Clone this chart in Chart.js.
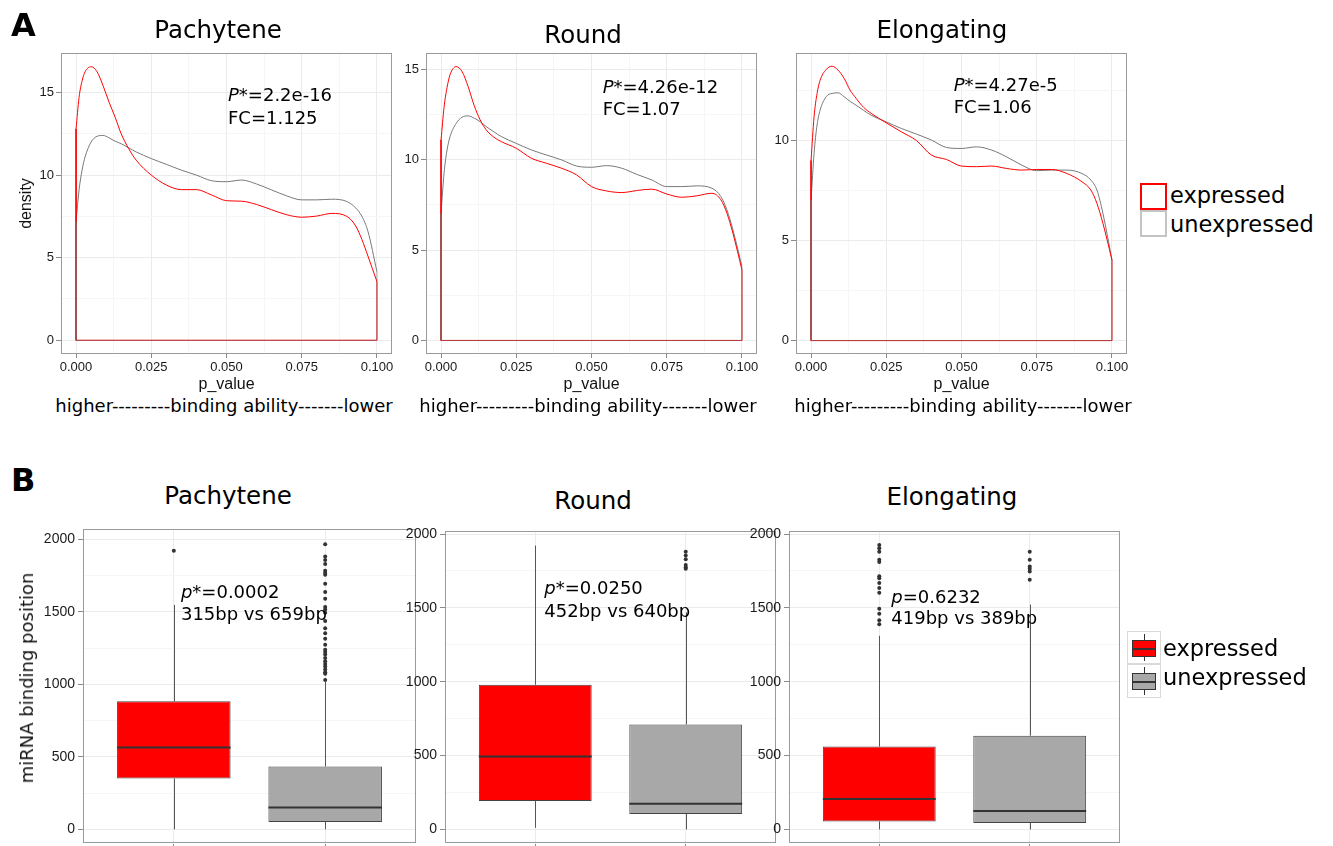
<!DOCTYPE html>
<html>
<head>
<meta charset="utf-8">
<title>miRNA binding ability and position</title>
<script src="https://cdn.jsdelivr.net/npm/chart.js@4.4.1/dist/chart.umd.min.js"></script>
<style>
  html, body { margin: 0; padding: 0; background: #fff; }
  body { width: 1333px; height: 846px; position: relative; overflow: hidden; font-family: "DejaVu Sans", sans-serif; color: #000; }
  canvas { position: absolute; }
  .lbl { position: absolute; white-space: nowrap; line-height: 1; transform: translate(-50%, -50%); }
  .rot { transform: translate(-50%, -50%) rotate(-90deg); color: #111; }
  .letter { position: absolute; font-weight: bold; font-size: 32px; line-height: 1; }
  .title { font-size: 24.5px; }
  .under { font-size: 18px; }
  .leg { position: absolute; white-space: nowrap; font-size: 22.5px; line-height: 1; transform: translateY(-50%); }
  .key { position: absolute; box-sizing: border-box; background: #fff; }
  .key .wh { position: absolute; left: 50%; width: 1px; top: 2px; bottom: 2px; background: #333; }
  .key .bx { position: absolute; left: 4px; right: 4px; top: 8px; height: 17px; box-sizing: border-box; border: 1.5px solid #333; }
  .key .md { position: absolute; left: 4px; right: 4px; top: 15.5px; height: 2px; background: #333; }
</style>
</head>
<body>
<canvas id="a1"></canvas>
<canvas id="a2"></canvas>
<canvas id="a3"></canvas>
<canvas id="b1"></canvas>
<canvas id="b2"></canvas>
<canvas id="b3"></canvas>

<div class="letter" style="left:11px;top:9px">A</div>
<div class="letter" style="left:11px;top:464px">B</div>

<div class="lbl title" style="left:218px;top:30px">Pachytene</div>
<div class="lbl title" style="left:583px;top:35px">Round</div>
<div class="lbl title" style="left:942px;top:30px">Elongating</div>
<div class="lbl title" style="left:228px;top:496px">Pachytene</div>
<div class="lbl title" style="left:593px;top:501px">Round</div>
<div class="lbl title" style="left:952px;top:497px">Elongating</div>

<div class="lbl under" style="left:224px;top:406px">higher---------binding ability-------lower</div>
<div class="lbl under" style="left:588px;top:406px">higher---------binding ability-------lower</div>
<div class="lbl under" style="left:963px;top:406px">higher---------binding ability-------lower</div>

<div class="lbl rot" style="left:27px;top:678px;font-size:18px">miRNA binding position</div>

<!-- legend for the density panels -->
<div class="key" style="left:1140px;top:183px;width:27px;height:27px;border:2px solid #ff0000"></div>
<div class="key" style="left:1140px;top:210px;width:27px;height:27px;border:2px solid #c4c4c4"></div>
<div class="leg" style="left:1170px;top:195px">expressed</div>
<div class="leg" style="left:1170px;top:224px">unexpressed</div>

<!-- legend for the box plots -->
<div class="key" style="left:1127px;top:631px;width:34px;height:33px;border:1px solid #d9d9d9">
  <div class="wh"></div><div class="bx" style="background:#ff0000"></div><div class="md"></div>
</div>
<div class="key" style="left:1127px;top:664px;width:34px;height:34px;border:1px solid #d9d9d9">
  <div class="wh"></div><div class="bx" style="background:#a8a8a8"></div><div class="md"></div>
</div>
<div class="leg" style="left:1163px;top:648px">expressed</div>
<div class="leg" style="left:1163px;top:677px">unexpressed</div>

<script>
// density curves
const pGrid = [0, 0.001, 0.002, 0.003, 0.005, 0.007, 0.009, 0.011, 0.013, 0.015, 0.0175, 0.02, 0.025, 0.03, 0.035,
  0.04, 0.045, 0.05, 0.055, 0.06, 0.065, 0.07, 0.075, 0.08, 0.085, 0.09, 0.093, 0.095, 0.097, 0.1];

const pachyteneExpr = [12.8, 14.7, 15.7, 16.25, 16.56, 16.25, 15.4, 14.4, 13.5, 12.5, 11.6, 10.9, 10.0, 9.4, 9.12,
  9.12, 8.8, 8.45, 8.42, 8.22, 7.9, 7.6, 7.45, 7.52, 7.68, 7.5, 6.9, 6.1, 5.1, 3.55];
const pachyteneUnexpr = [7.2, 9.1, 10.3, 11.1, 12.0, 12.35, 12.4, 12.25, 12.05, 11.9, 11.65, 11.4, 11.0, 10.65, 10.3,
  10.0, 9.66, 9.6, 9.7, 9.46, 9.1, 8.74, 8.5, 8.5, 8.54, 8.4, 8.0, 7.5, 6.6, 4.15];
const roundExpr = [11.1, 12.9, 14.0, 14.7, 15.15, 14.87, 14.04, 13.0, 12.2, 11.65, 11.25, 11.0, 10.63, 10.08, 9.8,
  9.53, 9.16, 8.51, 8.27, 8.18, 8.29, 8.37, 8.1, 7.92, 8.0, 8.14, 7.78, 7.04, 5.93, 3.9];
const roundUnexpr = [7.04, 9.25, 10.54, 11.28, 12.0, 12.35, 12.42, 12.3, 12.1, 11.83, 11.55, 11.28, 10.9, 10.54, 10.26,
  9.99, 9.65, 9.58, 9.67, 9.53, 9.19, 8.88, 8.51, 8.51, 8.55, 8.42, 7.96, 7.22, 6.12, 4.09];
const elongExpr = [9.0, 11.18, 12.35, 13.0, 13.54, 13.71, 13.51, 13.1, 12.51, 12.1, 11.65, 11.35, 10.88, 10.43, 10.0,
  9.27, 9.05, 8.72, 8.69, 8.72, 8.6, 8.52, 8.55, 8.55, 8.35, 7.94, 7.52, 6.86, 5.86, 4.03];
const elongUnexpr = [7.02, 9.35, 10.77, 11.51, 12.18, 12.35, 12.38, 12.18, 11.95, 11.76, 11.5, 11.26, 10.93, 10.6, 10.32,
  10.02, 9.65, 9.6, 9.68, 9.52, 9.18, 8.77, 8.49, 8.52, 8.52, 8.35, 8.02, 7.52, 6.36, 4.03];

const pTicks = [0, 0.025, 0.05, 0.075, 0.1];
const pMinor = [0.0125, 0.0375, 0.0625, 0.0875];
const densityTicks = [0, 5, 10, 15];
const densityMinor = [2.5, 7.5, 12.5];

// box plots: [lower whisker, Q1, median, Q3, upper whisker] for expressed / unexpressed
const groups = ['expressed', 'unexpressed'];
const pachyteneBox = [[0, 350, 564, 884, 1548], [0, 50, 150, 434, 1020]];
const roundBox = [[11, 192, 494, 980, 1922], [0, 105, 174, 711, 1470]];
const elongBox = [[0, 54, 206, 561, 1311], [0, 43, 125, 635, 1523]];
const pachyteneOut = [[1921], [1966, 1882, 1857, 1830, 1784, 1768, 1755, 1693, 1636, 1591, 1534, 1516, 1493, 1436,
  1386, 1352, 1314, 1273, 1239, 1223, 1205, 1182, 1159, 1141, 1123, 1102, 1084, 1073, 1030]];
const roundOut = [[], [1880, 1855, 1830, 1790, 1775, 1765]];
const elongOut = [[1926, 1904, 1881, 1826, 1810, 1714, 1700, 1669, 1635, 1602, 1494, 1461, 1416, 1389],
  [1881, 1826, 1781, 1765, 1747, 1691]];
const positionTicks = [0, 500, 1000, 1500, 2000];
const positionMinor = [250, 750, 1250, 1750];

const RED = '#ff0000';
const GREY_LINE = '#787878';
const GREY_FILL = '#a8a8a8';
const PAD = 10;

Chart.defaults.font.family = '"Liberation Sans", Arial, sans-serif';
Chart.defaults.animation = false;
Chart.defaults.events = [];

function fitCanvas(id, area, yW, xH) {
  const c = document.getElementById(id);
  const w = yW + area.r - area.l + PAD;
  const h = PAD + area.b - area.t + xH;
  c.width = w; c.height = h;
  c.style.width = w + 'px'; c.style.height = h + 'px';
  c.style.left = (area.l - yW) + 'px';
  c.style.top = (area.t - PAD) + 'px';
  return c;
}

// panel border drawn over the data, like the ggplot frame
const frame = {
  id: 'frame',
  afterDatasetsDraw(chart) {
    const {ctx, chartArea: a} = chart;
    ctx.save();
    ctx.strokeStyle = '#9a9a9a';
    ctx.lineWidth = 1;
    ctx.strokeRect(Math.round(a.left) + 0.5, Math.round(a.top) + 0.5,
      Math.round(a.right - a.left) - 1, Math.round(a.bottom - a.top) - 1);
    ctx.restore();
  }
};

// whiskers and medians, placed with the chart's own scales and bar elements
const boxes = {
  id: 'boxes',
  afterDatasetsDraw(chart, args, opts) {
    if (!opts.stats) return;
    const {ctx, scales: {y}} = chart;
    const bars = chart.getDatasetMeta(0).data;
    ctx.save();
    opts.stats.forEach((s, i) => {
      const el = bars[i];
      const cx = Math.round(el.x) + 0.5;
      ctx.strokeStyle = '#555';
      ctx.lineWidth = 1;
      ctx.beginPath();
      ctx.moveTo(cx, y.getPixelForValue(s[3])); ctx.lineTo(cx, y.getPixelForValue(s[4]));
      ctx.moveTo(cx, y.getPixelForValue(s[1])); ctx.lineTo(cx, y.getPixelForValue(s[0]));
      ctx.stroke();
      ctx.strokeStyle = '#333';
      ctx.lineWidth = 2;
      ctx.beginPath();
      const my = y.getPixelForValue(s[2]);
      ctx.moveTo(el.x - el.width / 2, my); ctx.lineTo(el.x + el.width / 2, my);
      ctx.stroke();
    });
    ctx.restore();
  }
};

// text annotations in data coordinates; parts are [text, italic]
const notes = {
  id: 'notes',
  afterDraw(chart, args, opts) {
    if (!opts.lines) return;
    const {ctx, scales: {x, y}} = chart;
    ctx.save();
    ctx.fillStyle = '#000';
    ctx.textBaseline = 'middle';
    ctx.textAlign = 'left';
    opts.lines.forEach(line => {
      let px = x.getPixelForValue(line.x);
      const py = y.getPixelForValue(line.y);
      line.parts.forEach(([text, italic]) => {
        ctx.font = (italic ? 'italic ' : '') + opts.size + 'px "DejaVu Sans"';
        ctx.fillText(text, px, py);
        px += ctx.measureText(text).width;
      });
    });
    ctx.restore();
  }
};

function axis(min, max, major, minor, label, extra) {
  const inRange = v => v >= min && v <= max;
  return Object.assign({
    type: 'linear', min, max, offset: false,
    afterBuildTicks: s => {
      s.ticks = major.concat(minor).filter(inRange).sort((a, b) => a - b).map(v => ({value: v}));
    },
    ticks: {
      autoSkip: false, maxRotation: 0, minRotation: 0, padding: 2, color: '#1a1a1a',
      font: {size: 13},
      callback: v => major.includes(v) ? label(v) : ''
    },
    grid: {
      offset: false, drawTicks: true, tickLength: 5, lineWidth: 1,
      color: ctx => major.includes(ctx.tick.value) ? '#ebebeb' : '#f6f6f6',
      tickColor: ctx => major.includes(ctx.tick.value) ? '#8a8a8a' : 'rgba(0,0,0,0)'
    },
    border: {display: false}
  }, extra || {});
}

function densityChart(id, area, yW, yMin, yMax, expr, unexpr, noteLines, yTitle) {
  const canvas = fitCanvas(id, area, yW, 40);
  const curve = ys => pGrid.map((p, i) => ({x: p, y: ys[i]}));
  const edges = ys => [
    {x: pGrid[0], y: ys[0]}, {x: pGrid[0], y: 0},
    {x: pGrid[pGrid.length - 1], y: 0}, {x: pGrid[pGrid.length - 1], y: ys[ys.length - 1]}
  ];
  const line = (data, color, smooth, order) => ({
    data, borderColor: color, borderWidth: 1, pointRadius: 0, showLine: true, order,
    cubicInterpolationMode: smooth ? 'monotone' : 'default', tension: 0
  });
  const yAxis = axis(yMin, yMax, densityTicks, densityMinor, v => String(v), {
    afterFit: s => { s.width = yW; },
    title: yTitle ? {display: true, text: yTitle, color: '#111', font: {size: 16}, padding: {top: 17, bottom: 0}} : {display: false}
  });
  const xAxis = axis(-0.005, 0.105, pTicks, pMinor, v => v.toFixed(3), {
    afterFit: s => { s.height = 40; },
    title: {display: true, text: 'p_value', color: '#111', font: {size: 16}, padding: {top: 0, bottom: 0}}
  });
  xAxis.grid.tickLength = 4;
  return new Chart(canvas, {
    type: 'scatter',
    data: {
      datasets: [
        line(curve(expr), RED, true, 0),
        line(edges(unexpr), 'rgba(110,110,110,0.55)', false, 1),
        line(edges(expr), RED, false, 2),
        line(curve(unexpr), GREY_LINE, true, 3)
      ]
    },
    options: {
      responsive: false,
      layout: {padding: {top: PAD, right: PAD, left: 0, bottom: 0}},
      scales: {x: xAxis, y: yAxis},
      plugins: {legend: {display: false}, tooltip: {enabled: false}, notes: {size: 18, lines: noteLines}}
    },
    plugins: [frame, notes]
  });
}

function boxChart(id, area, yW, yMin, yMax, stats, outliers, noteLines) {
  const canvas = fitCanvas(id, area, yW, 10);
  const outPoints = [];
  outliers.forEach((vals, i) => vals.forEach(v => outPoints.push({x: i + 1, y: v})));
  const yAxis = axis(yMin, yMax, positionTicks, positionMinor, v => String(v), {
    afterFit: s => { s.width = yW; }
  });
  yAxis.ticks.font = {size: 14};
  yAxis.ticks.padding = 3;
  const xAxis = axis(0.4, 2.6, [1, 2], [], () => '', {
    afterFit: s => { s.height = 10; }
  });
  return new Chart(canvas, {
    type: 'bar',
    data: {
      labels: groups,
      datasets: [
        {
          type: 'bar',
          data: stats.map((s, i) => ({x: i + 1, y: [s[1], s[3]]})),
          backgroundColor: [RED, GREY_FILL],
          borderColor: '#444',
          borderWidth: 1,
          borderSkipped: false,
          categoryPercentage: 1,
          barPercentage: 0.75,
          order: 2
        },
        {
          type: 'scatter',
          data: outPoints,
          pointRadius: 2,
          pointBackgroundColor: '#333',
          pointBorderWidth: 0,
          order: 1
        }
      ]
    },
    options: {
      responsive: false,
      layout: {padding: {top: PAD, right: PAD, left: 0, bottom: 0}},
      scales: {x: xAxis, y: yAxis},
      plugins: {
        legend: {display: false}, tooltip: {enabled: false},
        boxes: {stats},
        notes: {size: 18, lines: noteLines}
      }
    },
    plugins: [boxes, frame, notes]
  });
}

densityChart('a1', {l: 61, t: 53, r: 392, b: 354}, 61, -0.83, 17.39, pachyteneExpr, pachyteneUnexpr, [
  {x: 0.0505, y: 14.75, parts: [['P*', true], ['=2.2e-16', false]]},
  {x: 0.0505, y: 13.4, parts: [['FC=1.125', false]]}
], 'density');
densityChart('a2', {l: 426, t: 53, r: 757, b: 354}, 40, -0.75, 15.9, roundExpr, roundUnexpr, [
  {x: 0.0537, y: 13.95, parts: [['P*', true], ['=4.26e-12', false]]},
  {x: 0.0537, y: 12.72, parts: [['FC=1.07', false]]}
]);
densityChart('a3', {l: 796, t: 53, r: 1127, b: 354}, 40, -0.67, 14.37, elongExpr, elongUnexpr, [
  {x: 0.0474, y: 12.72, parts: [['P*', true], ['=4.27e-5', false]]},
  {x: 0.0474, y: 11.6, parts: [['FC=1.06', false]]}
]);

boxChart('b1', {l: 83, t: 528, r: 416, b: 845}, 83, -98.5, 2068.5, pachyteneBox, pachyteneOut, [
  {x: 1.047, y: 1629, parts: [['p*', true], ['=0.0002', false]]},
  {x: 1.047, y: 1477, parts: [['315bp vs 659bp', false]]}
]);
boxChart('b2', {l: 445, t: 530, r: 776, b: 845}, 45, -96, 2018, roundBox, roundOut, [
  {x: 1.06, y: 1624, parts: [['p*', true], ['=0.0250', false]]},
  {x: 1.06, y: 1472, parts: [['452bp vs 640bp', false]]}
]);
boxChart('b3', {l: 789, t: 530, r: 1120, b: 845}, 45, -96, 2018, elongBox, elongOut, [
  {x: 1.08, y: 1568, parts: [['p', true], ['=0.6232', false]]},
  {x: 1.08, y: 1423, parts: [['419bp vs 389bp', false]]}
]);
</script>
</body>
</html>
